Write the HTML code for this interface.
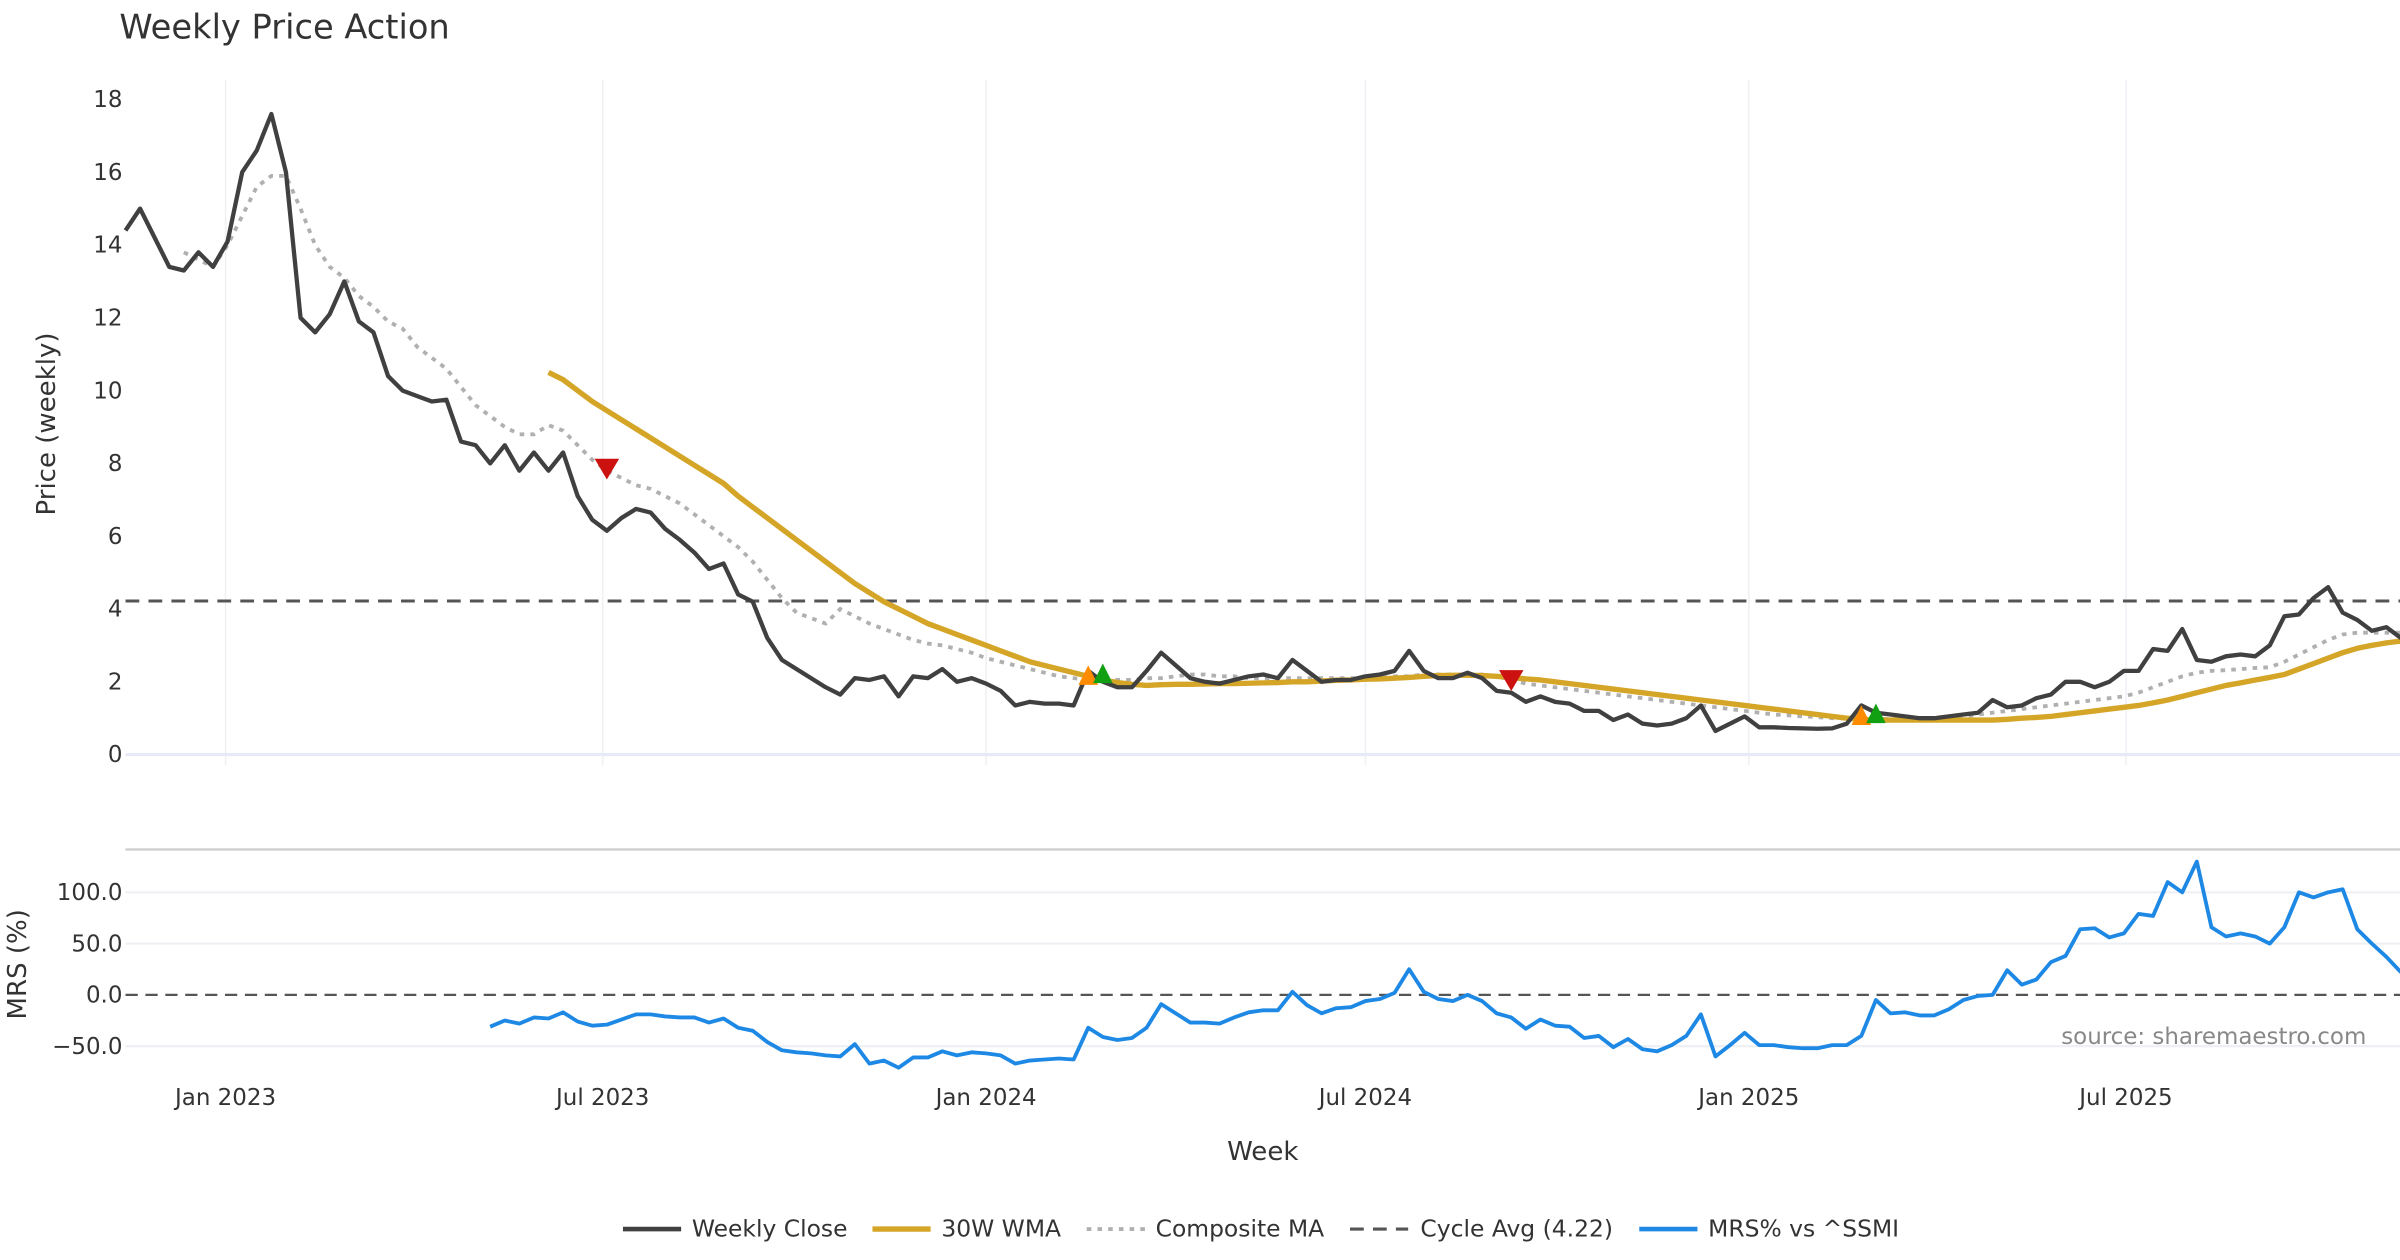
<!DOCTYPE html>
<html><head><meta charset="utf-8"><style>
html,body{margin:0;padding:0;background:#fff;}
svg{display:block;font-family:"DejaVu Sans","Liberation Sans",sans-serif;}
</style></head><body>
<svg id="chart" width="2400" height="1260" viewBox="0 0 1568 823.2" xmlns="http://www.w3.org/2000/svg">
<text x="78" y="25" font-size="22" fill="#333">Weekly Price Action</text>
<g id="grid"></g>
<g id="series"></g>
<g id="axes"></g>
<text transform="translate(36,277) rotate(-90)" text-anchor="middle" font-size="17" fill="#333">Price (weekly)</text>
<text transform="translate(17,630) rotate(-90)" text-anchor="middle" font-size="17" fill="#333">MRS (%)</text>
<text x="825" y="758" text-anchor="middle" font-size="17" fill="#333">Week</text>
<text x="1546" y="682" text-anchor="end" font-size="15" fill="#888">source: sharemaestro.com</text>
<g id="legend"></g>
</svg>
<script>
const startDate = "2022-11-14";
const closeVals = [14.4,15.0,14.2,13.4,13.3,13.8,13.4,14.1,16.0,16.6,17.6,16.0,12.0,11.6,12.1,13.0,11.9,11.6,10.4,10.0,9.85,9.7,9.75,8.6,8.5,8.0,8.5,7.8,8.3,7.8,8.3,7.1,6.45,6.15,6.5,6.75,6.65,6.2,5.9,5.55,5.1,5.25,4.4,4.2,3.2,2.6,2.35,2.1,1.85,1.65,2.1,2.05,2.15,1.6,2.15,2.1,2.35,2.0,2.1,1.95,1.75,1.35,1.45,1.4,1.4,1.35,2.3,2.0,1.85,1.85,2.3,2.8,2.45,2.1,2.0,1.95,2.05,2.15,2.2,2.1,2.6,2.3,2.0,2.05,2.05,2.15,2.2,2.3,2.85,2.3,2.1,2.1,2.25,2.1,1.75,1.7,1.45,1.6,1.45,1.4,1.2,1.2,0.95,1.1,0.85,0.8,0.85,1.0,1.35,0.65,0.85,1.05,0.75,0.75,0.73,0.72,0.71,0.72,0.85,1.35,1.15,1.1,1.05,1.0,1.0,1.05,1.1,1.15,1.5,1.3,1.35,1.55,1.65,2.0,2.0,1.85,2.0,2.3,2.3,2.9,2.85,3.45,2.6,2.55,2.7,2.75,2.7,3.0,3.8,3.85,4.3,4.6,3.9,3.7,3.4,3.5,3.2];
const wmaStart = 29;
const wmaVals = [10.5,10.3,10.0,9.7,9.45,9.2,8.95,8.7,8.45,8.2,7.95,7.7,7.45,7.1,6.8,6.5,6.2,5.9,5.6,5.3,5.0,4.7,4.45,4.2,4.0,3.8,3.6,3.45,3.3,3.15,3.0,2.85,2.7,2.55,2.45,2.35,2.25,2.15,2.05,1.98,1.93,1.9,1.92,1.93,1.93,1.94,1.95,1.95,1.96,1.97,1.98,2.0,2.0,2.02,2.04,2.05,2.07,2.08,2.1,2.12,2.15,2.17,2.18,2.18,2.17,2.15,2.12,2.08,2.05,2.0,1.95,1.9,1.85,1.8,1.75,1.7,1.65,1.6,1.55,1.5,1.45,1.4,1.35,1.3,1.25,1.2,1.15,1.1,1.05,1.0,0.97,0.95,0.95,0.95,0.95,0.95,0.95,0.95,0.95,0.95,0.97,1.0,1.02,1.05,1.1,1.15,1.2,1.25,1.3,1.35,1.42,1.5,1.6,1.7,1.8,1.9,1.97,2.05,2.12,2.2,2.35,2.5,2.65,2.8,2.92,3.0,3.07,3.12];
const compStart = 4;
const compVals = [13.8,13.6,13.4,14.0,14.8,15.6,15.9,15.9,15.0,14.0,13.4,13.1,12.6,12.3,11.9,11.7,11.2,10.9,10.6,10.1,9.6,9.3,9.0,8.8,8.8,9.05,8.9,8.5,8.1,7.8,7.6,7.4,7.3,7.1,6.9,6.6,6.3,6.0,5.7,5.3,4.8,4.3,3.9,3.75,3.6,4.0,3.8,3.6,3.45,3.3,3.15,3.05,3.0,2.9,2.8,2.65,2.55,2.45,2.35,2.25,2.15,2.1,2.05,2.05,2.05,2.05,2.1,2.1,2.15,2.2,2.2,2.15,2.15,2.1,2.1,2.1,2.1,2.1,2.1,2.1,2.1,2.1,2.1,2.15,2.15,2.2,2.2,2.2,2.2,2.2,2.15,2.05,1.95,1.9,1.85,1.8,1.75,1.7,1.65,1.6,1.55,1.5,1.45,1.4,1.35,1.3,1.25,1.2,1.15,1.1,1.08,1.05,1.03,1.0,1.0,0.98,0.98,0.98,0.98,1.0,1.0,1.02,1.05,1.1,1.15,1.2,1.25,1.3,1.35,1.4,1.45,1.5,1.55,1.6,1.7,1.85,2.0,2.15,2.25,2.3,2.32,2.35,2.38,2.4,2.55,2.75,2.95,3.15,3.3,3.35,3.35,3.35,3.35];
const mrsStart = 25;
const mrsVals = [-31,-25,-28,-22,-23,-17,-26,-30,-29,-24,-19,-19,-21,-22,-22,-27,-23,-32,-35,-46,-54,-56,-57,-59,-60,-48,-67,-64,-71,-61,-61,-55,-59,-56,-57,-59,-67,-64,-63,-62,-63,-32,-41,-44,-42,-32,-9,-18,-27,-27,-28,-22,-17,-15,-15,3,-10,-18,-13,-12,-6,-4,2,25,3,-4,-6,0,-6,-18,-22,-33,-24,-30,-31,-42,-40,-51,-43,-53,-55,-49,-40,-19,-60,-49,-37,-49,-49,-51,-52,-52,-49,-49,-40,-5,-18,-17,-20,-20,-14,-5,-1,0,24,10,15,32,38,64,65,56,60,79,77,110,100,130,66,57,60,57,50,66,100,95,100,103,64,50,37,22];
const cycleAvg = 4.22;
const markerIdx = [33,66,67,95,119,120];
const markerVals = [7.86,2.15,2.2,2.05,1.05,1.1];
const markerKind = ["sell","watch","buy","sell","watch","buy"];
const priceTicks = [0,2,4,6,8,10,12,14,16,18];
const mrsTicks = [-50,0,50,100];
const mrsTickLabels = ["−50.0","0.0","50.0","100.0"];
const dateTicks = ["2023-01-01","2023-07-01","2024-01-01","2024-07-01","2025-01-01","2025-07-01"];
const dateTickLabels = ["Jan 2023","Jul 2023","Jan 2024","Jul 2024","Jan 2025","Jul 2025"];

const NS="http://www.w3.org/2000/svg";
const X0=82, WK=9.53, XR=1568;
const xIdx=i=>X0+WK*i;
const xDate=d=>xIdx((new Date(d)-new Date(startDate))/86400000/7);
const yP=v=>493-v*23.78;
const yM=v=>650-v*0.67;
function mk(tag,attrs,parent){const e=document.createElementNS(NS,tag);for(const k in attrs)e.setAttribute(k,attrs[k]);parent.appendChild(e);return e;}
const grid=document.getElementById('grid'),ser=document.getElementById('series'),axes=document.getElementById('axes'),leg=document.getElementById('legend');

dateTicks.forEach((d,k)=>{
  const x=xDate(d);
  let g=mk('line',{x1:x,x2:x,y1:52,y2:500,stroke:'#eef0f4','stroke-width':1},grid);
  
  let t=mk('text',{x:x,y:722,'text-anchor':'middle','font-size':15,fill:'#333'},axes);
  t.textContent=dateTickLabels[k];
  
});
let z=mk('line',{x1:X0,x2:XR,y1:yP(0),y2:yP(0),stroke:'#e6e9f6','stroke-width':2},grid);

priceTicks.forEach(v=>{
  let t=mk('text',{x:80,y:yP(v)+5,'text-anchor':'end','font-size':15,fill:'#333'},axes);
  t.textContent=v;
  
});
let sep=mk('line',{x1:X0,x2:XR,y1:555,y2:555,stroke:'#ccc','stroke-width':1.5},grid);

mrsTicks.forEach((v,k)=>{
  if(v!==0){let g=mk('line',{x1:X0,x2:XR,y1:yM(v),y2:yM(v),stroke:'#eef0f4','stroke-width':1.5},grid);
  }
  let t=mk('text',{x:80,y:yM(v)+5,'text-anchor':'end','font-size':15,fill:'#333'},axes);
  t.textContent=mrsTickLabels[k];
  
});
let mz=mk('line',{x1:X0,x2:XR,y1:yM(0),y2:yM(0),stroke:'#555','stroke-width':1.5,'stroke-dasharray':'8 5'},grid);


function pathFrom(vals,start,yf){return vals.map((v,k)=>(k?'L':'M')+xIdx(start+k).toFixed(2)+' '+yf(v).toFixed(2)).join(' ');}
let ca=mk('line',{x1:X0,x2:XR,y1:yP(cycleAvg),y2:yP(cycleAvg),stroke:'#555','stroke-width':2,'stroke-dasharray':'9 6'},ser);

let cp=mk('path',{d:pathFrom(compVals,compStart,yP),fill:'none',stroke:'#b0b0b0','stroke-width':2.5,'stroke-dasharray':'3 4'},ser);

let wp=mk('path',{d:pathFrom(wmaVals,wmaStart,yP),fill:'none',stroke:'#D4A526','stroke-width':3.5,'stroke-linejoin':'round'},ser);

let cl=mk('path',{d:pathFrom(closeVals,0,yP),fill:'none',stroke:'#404040','stroke-width':2.8,'stroke-linejoin':'round'},ser);

let mp=mk('path',{d:pathFrom(mrsVals,mrsStart,yM),fill:'none',stroke:'#1E88E5','stroke-width':2.5,'stroke-linejoin':'round'},ser);

const kc={sell:'#CC1111',watch:'#FF8C00',buy:'#11A011'};
markerIdx.forEach((i,k)=>{
  const x=xIdx(i),y=yP(markerVals[k]),s=8;
  const pts=markerKind[k]==='sell'?`${x-s},${y-s*0.8} ${x+s},${y-s*0.8} ${x},${y+s*0.9}`:`${x-s*0.8},${y+s*0.7} ${x+s*0.8},${y+s*0.7} ${x},${y-s*0.9}`;
  let m=mk('polygon',{points:pts,fill:kc[markerKind[k]]},ser);
  
  
});
const legItems=[[407,452,'Weekly Close','#404040',3,''],[570,615,'30W WMA','#D4A526',3.5,''],[710,755,'Composite MA','#b0b0b0',2.5,'3 4'],[882,928,'Cycle Avg (4.22)','#555',2,'9 6'],[1071,1116,'MRS% vs ^SSMI','#1E88E5',3,'']];
legItems.forEach(it=>{
  let g=mk('g',{},leg);
  
  
  const a={x1:it[0],x2:it[0]+38,y1:803,y2:803,stroke:it[3],'stroke-width':it[4]};
  if(it[5])a['stroke-dasharray']=it[5];
  mk('line',a,g);
  let t=mk('text',{x:it[1],y:808,'font-size':15.3,fill:'#333'},g);
  t.textContent=it[2];
});
</script>
</body></html>
